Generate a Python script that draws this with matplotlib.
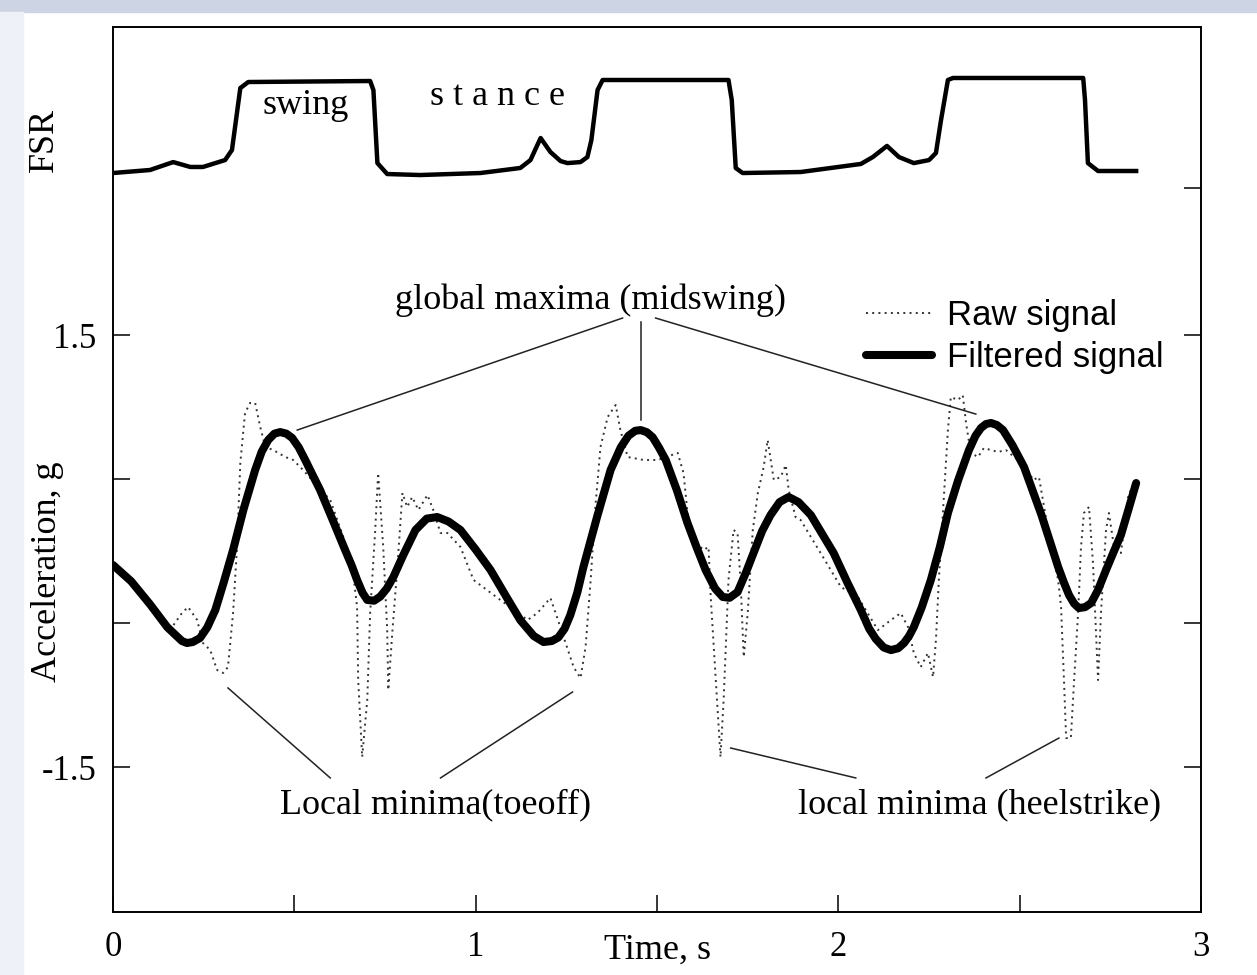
import matplotlib
matplotlib.use('Agg')
import matplotlib.pyplot as plt
from matplotlib.patches import Rectangle

plt.rcParams['font.family'] = 'Liberation Serif'

# FSR trace (time s, plotted level)
fsr_t = [0, 0.102, 0.166, 0.213, 0.248, 0.309, 0.328, 0.351, 0.373, 0.709, 0.718, 0.729,
         0.756, 0.847, 1.013, 1.123, 1.151, 1.179, 1.206, 1.234, 1.253, 1.289, 1.308, 1.319,
         1.336, 1.350, 1.697, 1.706, 1.717, 1.736, 1.896, 2.062, 2.095, 2.134, 2.167, 2.208,
         2.250, 2.269, 2.283, 2.302, 2.316, 2.675, 2.680, 2.688, 2.716, 2.821]
fsr_v = [2.625, 2.646, 2.701, 2.667, 2.667, 2.715, 2.785, 3.215, 3.257, 3.264, 3.201, 2.694,
         2.618, 2.611, 2.625, 2.660, 2.715, 2.868, 2.771, 2.708, 2.694, 2.701, 2.736, 2.854,
         3.201, 3.271, 3.271, 3.132, 2.660, 2.625, 2.632, 2.688, 2.736, 2.813, 2.736, 2.694,
         2.715, 2.764, 2.993, 3.271, 3.285, 3.285, 3.132, 2.694, 2.639, 2.639]

# filtered acceleration (g)
filt_t = [0, 0.05, 0.102, 0.15, 0.19, 0.204, 0.22, 0.24, 0.26, 0.282, 0.305, 0.331, 0.36,
          0.392, 0.41, 0.428, 0.445, 0.461, 0.478, 0.494, 0.512, 0.530, 0.55, 0.571, 0.605,
          0.640, 0.658, 0.673, 0.688, 0.701, 0.72, 0.737, 0.755, 0.773, 0.80, 0.834, 0.865,
          0.894, 0.925, 0.958, 1.0, 1.041, 1.085, 1.123, 1.16, 1.187, 1.21, 1.228, 1.245,
          1.261, 1.28, 1.297, 1.335, 1.372, 1.40, 1.421, 1.44, 1.455, 1.472, 1.488, 1.505,
          1.524, 1.555, 1.584, 1.61, 1.634, 1.66, 1.681, 1.70, 1.722, 1.745, 1.766, 1.79,
          1.813, 1.838, 1.863, 1.89, 1.924, 1.955, 1.987, 2.025, 2.062, 2.085, 2.103, 2.125,
          2.145, 2.165, 2.181, 2.195, 2.208, 2.23, 2.255, 2.28, 2.302, 2.33, 2.360, 2.378,
          2.393, 2.407, 2.421, 2.437, 2.454, 2.48, 2.512, 2.56, 2.606, 2.622, 2.636, 2.65,
          2.663, 2.68, 2.697, 2.716, 2.738, 2.76, 2.779, 2.80, 2.821]
filt_v = [-0.097, -0.21, -0.37, -0.53, -0.625, -0.639, -0.632, -0.604, -0.53, -0.41, -0.22, 0.007,
          0.29, 0.563, 0.69, 0.771, 0.815, 0.826, 0.815, 0.785, 0.72, 0.632, 0.53, 0.424, 0.22,
          0.007, -0.10, -0.201, -0.29, -0.340, -0.345, -0.316, -0.26, -0.181, -0.03, 0.146, 0.225,
          0.236, 0.205, 0.146, 0.01, -0.132, -0.32, -0.48, -0.59, -0.632, -0.625, -0.60, -0.54,
          -0.444, -0.29, -0.111, 0.24, 0.563, 0.72, 0.800, 0.835, 0.840, 0.825, 0.79, 0.72,
          0.632, 0.42, 0.194, 0.02, -0.132, -0.26, -0.319, -0.325, -0.285, -0.15, -0.014, 0.14,
          0.25, 0.34, 0.375, 0.34, 0.250, 0.12, -0.014, -0.22, -0.410, -0.54, -0.61, -0.67,
          -0.688, -0.675, -0.639, -0.59, -0.528, -0.39, -0.201, 0.03, 0.264, 0.49, 0.701, 0.80,
          0.854, 0.882, 0.889, 0.875, 0.840, 0.735, 0.583, 0.25, -0.111, -0.22, -0.306, -0.365,
          -0.396, -0.39, -0.361, -0.27, -0.132, 0.0, 0.111, 0.29, 0.472]

# raw acceleration (g)
raw_t = [0, 0.075, 0.130, 0.157, 0.190, 0.207, 0.232, 0.248, 0.268, 0.287, 0.304, 0.317,
         0.331, 0.342, 0.351, 0.364, 0.378, 0.392, 0.406, 0.420, 0.442, 0.475, 0.497, 0.524,
         0.566, 0.599, 0.635, 0.660, 0.673, 0.676, 0.687, 0.701, 0.709, 0.723, 0.731, 0.745,
         0.756, 0.759, 0.770, 0.784, 0.798, 0.811, 0.825, 0.842, 0.867, 0.883, 0.903, 0.922,
         0.958, 0.994, 1.068, 1.143, 1.170, 1.206, 1.225, 1.248, 1.270, 1.289, 1.303, 1.317,
         1.330, 1.344, 1.364, 1.386, 1.399, 1.419, 1.463, 1.502, 1.557, 1.573, 1.584, 1.601,
         1.628, 1.642, 1.648, 1.662, 1.675, 1.684, 1.697, 1.711, 1.722, 1.731, 1.739, 1.750,
         1.764, 1.778, 1.794, 1.805, 1.822, 1.841, 1.855, 1.863, 1.882, 1.896, 1.951, 2.007,
         2.054, 2.109, 2.145, 2.172, 2.192, 2.208, 2.227, 2.247, 2.261, 2.269, 2.277, 2.291,
         2.302, 2.310, 2.330, 2.343, 2.352, 2.365, 2.385, 2.401, 2.440, 2.462, 2.495, 2.512,
         2.537, 2.553, 2.567, 2.586, 2.606, 2.614, 2.622, 2.628, 2.641, 2.650, 2.661, 2.669,
         2.677, 2.691, 2.702, 2.710, 2.716, 2.724, 2.738, 2.746, 2.760, 2.779, 2.799, 2.815]
raw_v = [-0.097, -0.257, -0.444, -0.549, -0.431, -0.389, -0.479, -0.639, -0.688, -0.826, -0.847, -0.806,
         -0.431, 0.028, 0.611, 0.958, 1.028, 1.028, 0.861, 0.722, 0.701, 0.653, 0.632, 0.563,
         0.444, 0.354, 0.097, -0.111, -0.389, -0.896, -1.431, -1.035, -0.431, 0.146, 0.542, 0.028,
         -0.549, -0.965, -0.569, -0.111, 0.403, 0.306, 0.375, 0.285, 0.389, 0.285, 0.125, 0.125,
         0.028, -0.201, -0.340, -0.479, -0.431, -0.326, -0.465, -0.639, -0.806, -0.882, -0.667, -0.201,
         0.306, 0.722, 0.931, 1.014, 0.840, 0.653, 0.632, 0.632, 0.681, 0.542, 0.264, 0.076,
         0.007, 0.028, -0.319, -0.896, -1.431, -1.014, -0.201, 0.146, 0.125, -0.250, -0.736, -0.431,
         0.146, 0.403, 0.583, 0.771, 0.493, 0.514, 0.597, 0.424, 0.236, 0.215, -0.014, -0.250,
         -0.319, -0.549, -0.479, -0.431, -0.528, -0.708, -0.806, -0.708, -0.875, -0.618, -0.201, 0.375,
         0.840, 1.069, 1.049, 1.083, 0.889, 0.681, 0.653, 0.715, 0.688, 0.701, 0.632, 0.611,
         0.493, 0.514, 0.306, 0.028, -0.201, -0.389, -0.896, -1.299, -1.299, -0.896, -0.431, 0.028,
         0.264, 0.306, -0.083, -0.549, -0.896, -0.431, 0.146, 0.264, 0.028, -0.014, 0.375, 0.479]

# leader lines for the annotations: (t0, v0, t1, v1)
leaders = [
    (1.405, 1.618, 0.508, 0.840),
    (1.455, 1.590, 1.455, 0.910),
    (1.496, 1.618, 2.379, 0.951),
    (0.317, -0.951, 0.599, -1.576),
    (0.903, -1.576, 1.267, -0.979),
    (1.703, -1.368, 2.048, -1.576),
    (2.407, -1.576, 2.608, -1.299),
]

fig = plt.figure(figsize=(12.57, 9.75), dpi=100)
fig.patches.append(Rectangle((0, 0.988), 1, 0.012, transform=fig.transFigure,
                             color='#cdd4e3', zorder=0))
fig.patches.append(Rectangle((0, 0), 0.018, 0.988, transform=fig.transFigure,
                             color='#eef1f7', zorder=0))

ax = fig.add_axes([0.0899, 0.0646, 0.8656, 0.9077])
ax.set_xlim(0, 3)
ax.set_ylim(-2.507, 3.639)

ax.plot(fsr_t, fsr_v, color='black', lw=3.2, solid_joinstyle='round')
raw_line, = ax.plot(raw_t, raw_v, color='#333333', lw=1.4, ls=(0, (1, 2.2)))
filt_line, = ax.plot(filt_t, filt_v, color='black', lw=5.8, solid_capstyle='round',
                     solid_joinstyle='round')

for t0, v0, t1, v1 in leaders:
    ax.plot([t0, t1], [v0, v1], color='#222222', lw=1.1)

fs = 26
ax.text(0.530, 3.097, 'swing', ha='center', va='center', fontsize=fs)
ax.text(1.060, 3.153, 's t a n c e', ha='center', va='center', fontsize=fs)
ax.text(1.317, 1.743, 'global maxima (midswing)', ha='center', va='center', fontsize=fs)
ax.text(0.889, -1.764, 'Local minima(toeoff)', ha='center', va='center', fontsize=fs)
ax.text(2.390, -1.764, 'local minima (heelstrike)', ha='center', va='center', fontsize=fs)

ax.set_xticks([0, 0.5, 1, 1.5, 2, 2.5, 3])
ax.set_xticklabels(['0', '', '1', '', '2', '', '3'])
ax.set_yticks([1.5, 0.5, -0.5, -1.5])
ax.set_yticklabels(['1.5', '', '', '-1.5'])
ax.tick_params(direction='in', length=12, width=1.1, labelsize=25, pad=12)
ax.tick_params(axis='x', pad=14)

ax2 = ax.twinx()
ax2.set_ylim(ax.get_ylim())
ax2.set_yticks([2.52, 1.5, 0.5, -0.5, -1.5])
ax2.set_yticklabels([])
ax2.tick_params(direction='in', length=12, width=1.1)

for a in (ax, ax2):
    for s in a.spines.values():
        s.set_linewidth(1.2)

ax.text(0.5, -0.043, 'Time, s', transform=ax.transAxes, ha='center', va='center', fontsize=fs)
ax.text(-0.060, 0.385, 'Acceleration, g', transform=ax.transAxes, ha='center', va='center',
        rotation=90, fontsize=fs)
ax.text(-0.063, 0.872, 'FSR', transform=ax.transAxes, ha='center', va='center',
        rotation=90, fontsize=fs)

leg = ax.legend([raw_line, filt_line], ['Raw signal', 'Filtered signal'],
                loc='upper left', bbox_to_anchor=(0.676, 0.712), frameon=False,
                prop={'family': 'Liberation Sans', 'size': 25}, handlelength=1.9,
                handletextpad=0.45, labelspacing=0.25, borderpad=0)

fig.savefig('out.png', dpi=100, facecolor='white')
